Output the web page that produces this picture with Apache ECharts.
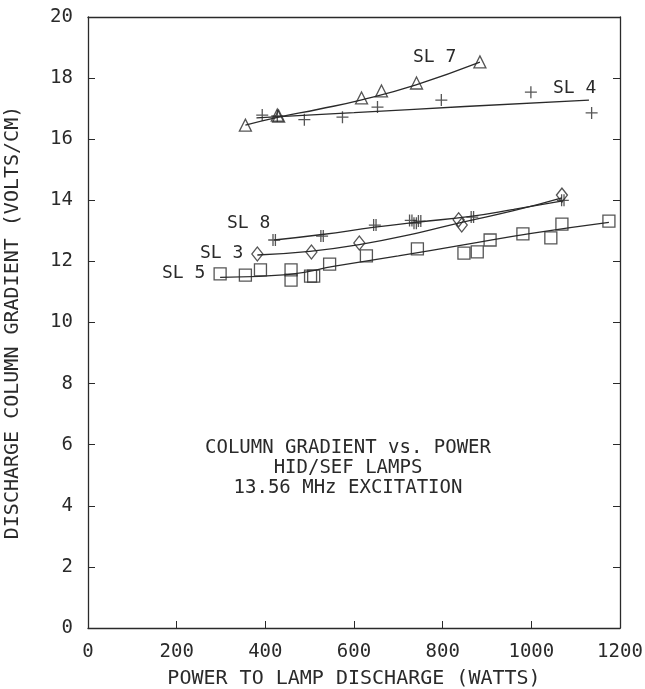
<!DOCTYPE html>
<html>
<head>
<meta charset="utf-8">
<script src="https://cdn.jsdelivr.net/npm/echarts@6/dist/echarts.min.js"></script>
<style>
	html, body { margin:0; padding:0; background:#fff; }
	#chart { width:645px; height:689px; }
</style>
</head>
<body>
<div id="chart"></div>
<script type="text/javascript">

	// measured points [power W, gradient V/cm]
	var sl7 = [[355,16.46],[427,16.79],[430,16.76],[617,17.35],[662,17.58],[741,17.84],[884,18.53]];
	var sl4 = [[393,16.79],[427,16.76],[488,16.64],[574,16.72],[653,17.05],[797,17.28],[999,17.54],[1136,16.86]];
	var sl8 = [[420,12.70],[528,12.83],[647,13.19],[728,13.34],[738,13.25],[748,13.32],[867,13.45],[1071,14.00]];
	var sl3 = [[382,12.24],[504,12.31],[612,12.60],[836,13.36],[843,13.19],[1069,14.17]];
	var sl5 = [[298,11.59],[355,11.55],[389,11.72],[458,11.72],[458,11.39],[502,11.52],[509,11.52],[545,11.91],
	           [628,12.18],[743,12.41],[848,12.27],[878,12.31],[907,12.70],[981,12.90],[1044,12.77],[1069,13.22],[1175,13.32]];

	// fitted curves as drawn
	var fit7 = [[355,16.46],[430,16.72],[520,16.98],[615,17.28],[740,17.78],[884,18.52]];
	var fit4 = [[380,16.70],[600,16.87],[850,17.07],[1130,17.28]];
	var fit8 = [[420,12.70],[528,12.88],[647,13.12],[740,13.28],[867,13.48],[960,13.70],[1071,13.98]];
	var fit3 = [[382,12.21],[500,12.33],[612,12.55],[740,12.92],[843,13.28],[960,13.66],[1069,14.08]];
	var fit5 = [[298,11.48],[450,11.57],[560,11.85],[700,12.18],[850,12.55],[1000,12.92],[1175,13.28]];

	var xTicks = [0,200,400,600,800,1000,1200];
	var yTicks = [0,2,4,6,8,10,12,14,16,18,20];

	var ink = '#2a2a2a';
	var font = 'DejaVu Sans Mono';
	var clear = 'rgba(0,0,0,0)';
	var plus = 'path://M0,5L10,5M5,0L5,10';
	var plus2 = 'path://M0,5L10,5M4,0L4,10M6,0L6,10';

	function pts(name, data, symbol, size){
		return {
			name: name, type: 'scatter', data: data,
			symbol: symbol, symbolSize: size,
			itemStyle: { color: clear, borderColor: ink, borderWidth: 1.3 },
			z: 3
		};
	}
	function fit(data){
		return {
			type: 'line', data: data, smooth: true, symbol: 'none',
			lineStyle: { color: ink, width: 1.3 }, z: 2
		};
	}
	function lbl(x, y, t){
		return { type: 'text', left: x, top: y, style: { text: t, font: '18px "' + font + '"', fill: ink } };
	}
	function note(y, t){
		return { type: 'text', x: 348, y: y, style: { text: t, font: '19px "' + font + '"', fill: ink, align: 'center', verticalAlign: 'middle' } };
	}

	var chart = echarts.init(document.getElementById('chart'));
	chart.setOption({
		backgroundColor: '#fff',
		animation: false,
		grid: { left: 88, top: 17, width: 532, height: 611, containLabel: false, outerBoundsMode: 'none' },
		xAxis: [
			{
				type: 'value', min: xTicks[0], max: xTicks[xTicks.length-1], interval: 200,
				name: 'POWER TO LAMP DISCHARGE (WATTS)', nameLocation: 'middle', nameGap: 41,
				nameTextStyle: { fontFamily: font, fontSize: 20, color: ink },
				axisLine: { onZero: false, lineStyle: { color: ink, width: 1.3 } },
				axisTick: { inside: true, length: 7, lineStyle: { color: ink } },
				axisLabel: { margin: 15, fontFamily: font, fontSize: 19, color: ink, formatter: function(v){ return String(v); } },
				splitLine: { show: false }
			},
			{
				type: 'value', position: 'top', min: 0, max: 1200, interval: 200,
				axisLine: { show: true, onZero: false, lineStyle: { color: ink, width: 1.3 } },
				axisTick: { show: false }, axisLabel: { show: false }, splitLine: { show: false }
			}
		],
		yAxis: [
			{
				type: 'value', min: yTicks[0], max: yTicks[yTicks.length-1], interval: 2,
				name: 'DISCHARGE COLUMN GRADIENT (VOLTS/CM)', nameLocation: 'middle', nameGap: 65,
				nameTextStyle: { fontFamily: font, fontSize: 20, color: ink },
				axisLine: { show: true, onZero: false, lineStyle: { color: ink, width: 1.3 } },
				axisTick: { inside: true, length: 7, lineStyle: { color: ink } },
				axisLabel: { margin: 15, fontFamily: font, fontSize: 19, color: ink },
				splitLine: { show: false }
			},
			{
				type: 'value', position: 'right', min: 0, max: 20, interval: 2,
				axisLine: { show: true, onZero: false, lineStyle: { color: ink, width: 1.3 } },
				axisTick: { inside: true, length: 7, lineStyle: { color: ink } },
				axisLabel: { show: false }, splitLine: { show: false }
			}
		],
		series: [
			fit(fit7), fit(fit4), fit(fit8), fit(fit3), fit(fit5),
			pts('SL 7', sl7, 'triangle', 12),
			pts('SL 4', sl4, plus, 12),
			pts('SL 8', sl8, plus2, 12),
			pts('SL 3', sl3, 'diamond', [11, 14]),
			pts('SL 5', sl5, 'rect', 12)
		],
		graphic: [
			lbl(413, 48, 'SL 7'),
			lbl(553, 79, 'SL 4'),
			lbl(227, 214, 'SL 8'),
			lbl(200, 244, 'SL 3'),
			lbl(162, 264, 'SL 5'),
			note(448, 'COLUMN GRADIENT vs. POWER'),
			note(468, 'HID/SEF LAMPS'),
			note(488, '13.56 MHz EXCITATION')
		]
	});

</script>
</body>
</html>
